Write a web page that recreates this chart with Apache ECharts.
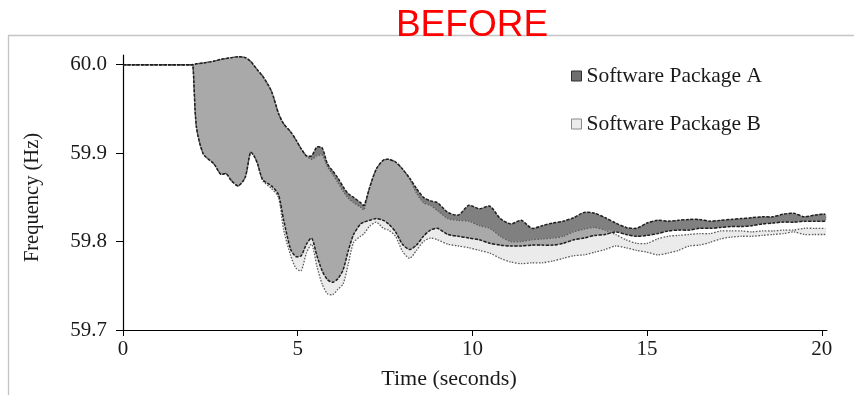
<!DOCTYPE html>
<html>
<head>
<meta charset="utf-8">
<title>Frequency response</title>
<script src="https://cdn.jsdelivr.net/npm/echarts@6/dist/echarts.min.js"></script>
<style>
  html, body { margin: 0; padding: 0; background: #fff; }
  #chart { width: 854px; height: 395px; }
</style>
</head>
<body>
<div id="chart"></div>
<script>
// Time samples (seconds)
const time = [0, 1.95, 2.0, 2.1, 2.3, 2.6, 2.8, 2.95, 3.1, 3.3,
  3.5, 3.65, 3.75, 3.85, 4.0, 4.25, 4.45, 4.6, 4.8, 4.95,
  5.1, 5.25, 5.4, 5.55, 5.7, 5.85, 6.0, 6.15, 6.3, 6.45,
  6.6, 6.8, 6.9, 7.05, 7.25, 7.45, 7.6, 7.8, 8.0, 8.2,
  8.4, 8.6, 8.8, 9.0, 9.3, 9.6, 9.9, 10.2, 10.5, 10.8,
  11.1, 11.4, 11.7, 12.0, 12.3, 12.6, 12.9, 13.2, 13.5, 13.8,
  14.1, 14.4, 14.7, 15.0, 15.3, 15.6, 15.9, 16.2, 16.5, 16.8,
  17.1, 17.4, 17.7, 18.0, 18.3, 18.6, 18.9, 19.2, 19.5, 19.8, 20.1];

// Software Package A envelope (Hz)
const pkgAUpper = [60.000, 60.000, 60.000, 60.001, 60.002, 60.004, 60.006, 60.007, 60.008, 60.009,
  60.008, 60.004, 59.999, 59.994, 59.987, 59.970, 59.945, 59.933, 59.924, 59.915,
  59.905, 59.897, 59.897, 59.907, 59.906, 59.888, 59.880, 59.872, 59.862, 59.854,
  59.850, 59.844, 59.841, 59.860, 59.882, 59.892, 59.893, 59.890, 59.882, 59.872,
  59.860, 59.850, 59.846, 59.844, 59.833, 59.830, 59.841, 59.837, 59.840, 59.826,
  59.820, 59.824, 59.815, 59.818, 59.821, 59.823, 59.827, 59.833, 59.832, 59.827,
  59.821, 59.816, 59.815, 59.821, 59.824, 59.823, 59.824, 59.825, 59.825, 59.823,
  59.824, 59.825, 59.826, 59.827, 59.828, 59.828, 59.831, 59.832, 59.828, 59.830, 59.831];
const pkgALower = [60.000, 60.000, 60.000, 59.930, 59.899, 59.888, 59.876, 59.877, 59.869, 59.863,
  59.873, 59.901, 59.897, 59.888, 59.870, 59.863, 59.853, 59.824, 59.791, 59.783,
  59.784, 59.797, 59.804, 59.784, 59.767, 59.757, 59.754, 59.758, 59.768, 59.790,
  59.808, 59.820, 59.822, 59.824, 59.826, 59.824, 59.820, 59.811, 59.797, 59.791,
  59.796, 59.806, 59.813, 59.815, 59.808, 59.806, 59.804, 59.802, 59.798, 59.796,
  59.795, 59.795, 59.796, 59.796, 59.796, 59.798, 59.802, 59.804, 59.807, 59.808,
  59.811, 59.808, 59.806, 59.807, 59.809, 59.812, 59.813, 59.813, 59.815, 59.815,
  59.816, 59.817, 59.817, 59.818, 59.820, 59.821, 59.822, 59.822, 59.823, 59.823, 59.823];

// Software Package B envelope (Hz)
const pkgBUpper = [60.000, 60.000, 60.000, 60.001, 60.002, 60.004, 60.006, 60.007, 60.008, 60.009,
  60.008, 60.004, 59.999, 59.994, 59.987, 59.970, 59.945, 59.933, 59.924, 59.915,
  59.905, 59.897, 59.893, 59.897, 59.898, 59.885, 59.876, 59.867, 59.857, 59.849,
  59.844, 59.839, 59.836, 59.860, 59.882, 59.892, 59.893, 59.890, 59.882, 59.871,
  59.855, 59.844, 59.841, 59.835, 59.826, 59.824, 59.823, 59.818, 59.815, 59.806,
  59.800, 59.800, 59.802, 59.803, 59.804, 59.806, 59.811, 59.814, 59.816, 59.813,
  59.808, 59.802, 59.798, 59.798, 59.803, 59.806, 59.807, 59.808, 59.809, 59.809,
  59.812, 59.812, 59.812, 59.811, 59.812, 59.812, 59.813, 59.813, 59.815, 59.815, 59.815];
const pkgBLower = [60.000, 60.000, 60.000, 59.930, 59.899, 59.888, 59.876, 59.877, 59.869, 59.863,
  59.873, 59.901, 59.897, 59.888, 59.869, 59.860, 59.850, 59.813, 59.784, 59.770,
  59.767, 59.787, 59.797, 59.772, 59.752, 59.741, 59.740, 59.746, 59.752, 59.775,
  59.799, 59.806, 59.809, 59.817, 59.822, 59.815, 59.813, 59.806, 59.789, 59.781,
  59.790, 59.800, 59.804, 59.802, 59.797, 59.795, 59.793, 59.790, 59.787, 59.781,
  59.777, 59.775, 59.776, 59.776, 59.778, 59.781, 59.784, 59.785, 59.788, 59.791,
  59.795, 59.793, 59.790, 59.788, 59.785, 59.787, 59.790, 59.795, 59.796, 59.799,
  59.803, 59.805, 59.806, 59.806, 59.807, 59.808, 59.809, 59.811, 59.808, 59.808, 59.808];

// Axis tick labels
const xTicks = [0, 5, 10, 15, 20];
const yTicks = [59.7, 59.8, 59.9, 60.0];

// Region where both envelopes overlap (collapses to a line where they do not)
const overlapLower = pkgALower.map((v, i) => Math.max(v, pkgBLower[i]));
const overlapUpper = pkgAUpper.map((v, i) => Math.max(Math.min(v, pkgBUpper[i]), overlapLower[i]));

const SERIF = '"Liberation Serif", "Times New Roman", serif';
const SMOOTH = 0.25;

// Filled band between a lower and an upper curve, drawn as one polygon
function band(name, lower, upper, color, z) {
  return {
    name: name, type: 'custom', z: z, silent: true,
    itemStyle: { color: color },
    data: time.map((t, i) => [t, lower[i], upper[i]]),
    encode: { x: 0, y: [1, 2] },
    renderItem: function (params, api) {
      if (params.dataIndex !== 0) return null;
      const top = [], bottom = [];
      for (let i = 0; i < time.length; i++) {
        top.push(api.coord([time[i], upper[i]]));
        bottom.push(api.coord([time[i], lower[i]]));
      }
      return {
        type: 'polygon',
        shape: { points: top.concat(bottom.reverse()), smooth: SMOOTH },
        style: { fill: color, stroke: color, lineWidth: 0.5 }
      };
    }
  };
}

// Envelope edge drawn as a single polyline
function edge(name, arr, color, dash, width, z) {
  return {
    name: name, type: 'custom', z: z, silent: true,
    data: time.map((t, i) => [t, arr[i]]),
    encode: { x: 0, y: 1 },
    renderItem: function (params, api) {
      if (params.dataIndex !== 0) return null;
      const pts = time.map((t, i) => api.coord([t, arr[i]]));
      return {
        type: 'polyline',
        shape: { points: pts, smooth: SMOOTH },
        style: { fill: null, stroke: color, lineWidth: width, lineDash: dash }
      };
    }
  };
}

const chart = echarts.init(document.getElementById('chart'), null, { renderer: 'canvas' });

chart.setOption({
  animation: false,
  backgroundColor: '#ffffff',
  graphic: [
    {
      type: 'rect', z: 0, silent: true,
      shape: { x: 8.5, y: 35.5, width: 900, height: 400 },
      style: { fill: 'none', stroke: '#c4c4c4', lineWidth: 1.3 }
    },
    {
      type: 'text', z: 100, silent: true, x: 472, y: 26,
      style: {
        text: 'BEFORE', fill: '#ff0000', font: '37px "Liberation Sans", Arial, sans-serif',
        textAlign: 'center', textVerticalAlign: 'middle'
      }
    }
  ],
  legend: {
    orient: 'vertical', left: 566, top: 60, itemGap: 26,
    itemWidth: 10, itemHeight: 10, selectedMode: false,
    textStyle: { fontFamily: SERIF, fontSize: 21.5, color: '#1a1a1a' },
    data: [
      { name: 'Software Package A', icon: 'rect',
        itemStyle: { color: '#6e6e6e', borderColor: '#2e2e2e', borderWidth: 1 } },
      { name: 'Software Package B', icon: 'rect',
        itemStyle: { color: '#ececec', borderColor: '#8a8a8a', borderWidth: 1 } }
    ]
  },
  grid: { left: 123, right: 27, top: 55, bottom: 63, containLabel: false },
  xAxis: {
    type: 'value', min: 0, max: 20.15,
    name: 'Time (seconds)', nameLocation: 'middle', nameGap: 38,
    nameTextStyle: { fontFamily: SERIF, fontSize: 22, color: '#1a1a1a', padding: [0, 52, 0, 0] },
    axisLine: { lineStyle: { color: '#000', width: 1.2 } },
    axisTick: { length: 6, lineStyle: { color: '#000' }, customValues: xTicks },
    axisLabel: { customValues: xTicks, fontFamily: SERIF, fontSize: 21, color: '#1a1a1a', margin: 9 },
    splitLine: { show: false }
  },
  yAxis: {
    type: 'value', min: 59.7, max: 60.011,
    name: 'Frequency (Hz)', nameLocation: 'middle', nameGap: 80, nameRotate: 90,
    nameTextStyle: { fontFamily: SERIF, fontSize: 20.5, color: '#1a1a1a', padding: [0, 10, 0, 0] },
    axisLine: { show: true, lineStyle: { color: '#000', width: 1.2 } },
    axisTick: { show: true, length: 7, lineStyle: { color: '#000' }, customValues: yTicks },
    axisLabel: {
      customValues: yTicks, fontFamily: SERIF, fontSize: 21, color: '#1a1a1a', margin: 16,
      formatter: v => v.toFixed(1)
    },
    splitLine: { show: false }
  },
  series: [
    band('Software Package B', pkgBLower, pkgBUpper, '#ebebeb', 2),
    band('Software Package A', pkgALower, pkgAUpper, '#808080', 3),
    band('Overlap', overlapLower, overlapUpper, '#a9a9a9', 4),
    edge('B upper', pkgBUpper, '#5c5c5c', [1.5, 1.5], 1.3, 10),
    edge('B lower', pkgBLower, '#5c5c5c', [1.5, 1.5], 1.3, 10),
    edge('A upper', pkgAUpper, '#1e1e1e', [3, 1.5], 1.5, 11),
    edge('A lower', pkgALower, '#1e1e1e', [3, 1.5], 1.5, 11)
  ]
});
</script>
</body>
</html>
